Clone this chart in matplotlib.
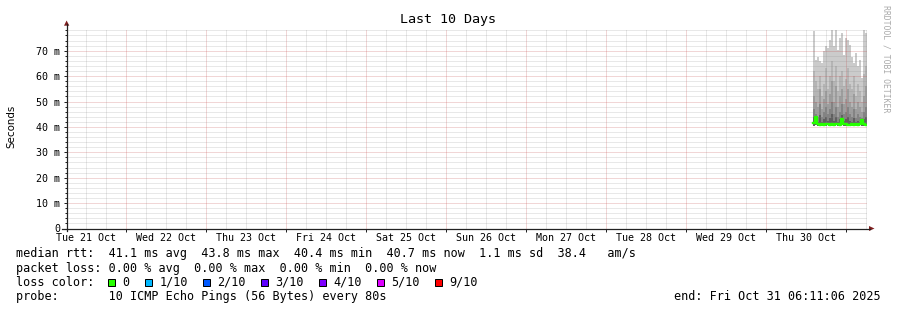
import matplotlib
matplotlib.use("Agg")
import matplotlib.pyplot as plt
import matplotlib.dates as mdates
from matplotlib.ticker import MultipleLocator, FuncFormatter, NullFormatter
from matplotlib.patches import Rectangle, Polygon
from matplotlib.lines import Line2D
from matplotlib.transforms import IdentityTransform, blended_transform_factory
from datetime import datetime, timedelta

W, H = 897, 310

# ---- data: smokeping rtt in ms, one column per 36 min ----
start = datetime(2025, 10, 21, 6, 11, 6)
end = datetime(2025, 10, 31, 6, 11, 6)
col_start = datetime(2025, 10, 30, 14, 0)
col_minutes = 36

ping_max = [77.6, 66.4, 67.7, 65.8, 65.1, 69.7, 71.7, 71.0, 74.3, 78.0, 71.7, 78.0, 70.4, 75.0,
            77.0, 68.4, 75.0, 74.3, 72.4, 67.7, 65.0, 69.0, 63.8, 66.4, 59.2, 78.3, 77.0]
ping_p9 = [62, 58, 55, 60, 52, 57, 63, 55, 60, 66, 58, 64, 54, 60,
           62, 56, 59, 63, 57, 55, 60, 52, 57, 54, 50, 61, 64]
ping_p8 = [52, 50, 48, 55, 47, 51, 54, 49, 53, 58, 50, 56, 48, 52,
           55, 49, 51, 55, 50, 48, 53, 47, 50, 48, 46, 52, 56]
ping_p7 = [47, 45, 44, 49, 44, 46, 48, 45, 47, 50, 45, 48, 44, 46,
           49, 45, 46, 48, 45, 44, 47, 43.5, 45, 44, 43.5, 46, 48]
ping_p6 = [44, 42.5, 42, 44.5, 42, 43, 44, 42.5, 43.5, 45, 42.5, 44, 42, 43,
           44.5, 42.5, 43, 44, 42.5, 42, 43.5, 42, 42.5, 42, 42, 43, 44]
ping_min = [40.4, 40.6, 40.5, 40.5, 40.6, 40.4, 40.5, 40.6, 40.5, 40.4, 40.5, 40.6, 40.5, 40.4,
            40.6, 40.5, 40.5, 40.4, 40.5, 40.6, 40.5, 40.4, 40.5, 40.6, 40.5, 40.4, 40.5]
median = [41.5, 44.0, 41.0, 40.8, 41.2, 40.9, 41.0, 41.3, 40.8, 41.1, 40.9, 41.2, 41.0, 40.8,
          43.2, 41.0, 41.2, 40.9, 40.7, 41.0, 40.8, 41.1, 40.9, 41.3, 42.8, 41.0, 40.7]

day_labels = ["Tue 21 Oct", "Wed 22 Oct", "Thu 23 Oct", "Fri 24 Oct", "Sat 25 Oct",
              "Sun 26 Oct", "Mon 27 Oct", "Tue 28 Oct", "Wed 29 Oct", "Thu 30 Oct"]

loss_labels = ["0", "1/10", "2/10", "3/10", "4/10", "5/10", "9/10"]
loss_colors = ["#26ff00", "#00b8ff", "#0059ff", "#5e00ff", "#7e00ff", "#dd00ff", "#ff0000"]

legend_lines = [
    "median rtt:  41.1 ms avg  43.8 ms max  40.4 ms min  40.7 ms now  1.1 ms sd  38.4   am/s",
    "packet loss: 0.00 % avg  0.00 % max  0.00 % min  0.00 % now",
    "loss color:",
    "probe:       10 ICMP Echo Pings (56 Bytes) every 80s",
]
end_text = "end: Fri Oct 31 06:11:06 2025"

band_colors = ["#cbcbcb", "#b5b5b5", "#9d9d9d", "#838383", "#5f5f5f"]

MONO = "DejaVu Sans Mono"
AXIS = "#222222"
ARROW = "#7f1f1f"

fig = plt.figure(figsize=(W / 100, H / 100), dpi=100, facecolor="white")
ax = fig.add_axes([66.5 / W, (H - 228.5) / H, 800 / W, 200 / H])
ax.set_facecolor("white")
ax.set_axisbelow(False)

edges = [col_start + timedelta(minutes=col_minutes * i) for i in range(len(ping_max) + 1)]

def ext(v):
    return list(v) + [v[-1]]

for vals, c in zip([ping_max, ping_p9, ping_p8, ping_p7, ping_p6], band_colors):
    ax.fill_between(edges, ext(ping_min), ext(vals), step="post", color=c, lw=0, zorder=1)
ax.step(edges, ext(median), where="post", color=loss_colors[0], lw=1.7, zorder=3)

ax.set_xlim(start, end)
ax.set_ylim(0, 200 / 2.54)

# grid
ax.xaxis.set_major_locator(mdates.DayLocator())
ax.xaxis.set_minor_locator(mdates.HourLocator(byhour=[0, 6, 12, 18]))
ax.xaxis.set_major_formatter(NullFormatter())
ax.yaxis.set_major_locator(MultipleLocator(10))
ax.yaxis.set_minor_locator(MultipleLocator(2))
ax.yaxis.set_major_formatter(FuncFormatter(lambda v, p: "0" if round(v) == 0 else "%d m" % round(v)))
ax.grid(which="minor", color="#8c8c8c", alpha=0.4, lw=0.72, ls=(0, (1, 1)))
ax.grid(which="major", color="#c04040", alpha=0.42, lw=0.72, ls=(0, (1, 1)))
for s in ax.spines.values():
    s.set_visible(False)
ax.tick_params(which="major", direction="out", length=2.2, width=0.72, color=AXIS,
               labelsize=7.2, pad=2.2)
ax.tick_params(which="minor", direction="out", length=1.5, width=0.72, color=AXIS)
ax.tick_params(axis="x", which="minor", length=0)
for lab in ax.get_yticklabels():
    lab.set_family(MONO)

# day labels centred on noon
tr = blended_transform_factory(ax.transData, ax.transAxes)
for i, lab in enumerate(day_labels):
    ax.text(datetime(2025, 10, 21 + i, 12), -0.047, lab, transform=tr, ha="center", va="center",
            fontsize=7.2, family=MONO, clip_on=False)

# axis lines and arrows (pixel coords, y from top)
T = IdentityTransform()
fig.add_artist(Line2D([66.5, 66.5], [H - 231, H - 24], transform=T, color=AXIS, lw=0.9))
fig.add_artist(Line2D([62, 870], [H - 228.5, H - 228.5], transform=T, color=AXIS, lw=0.9))
fig.add_artist(Polygon([(64, H - 25.7), (69.3, H - 25.7), (66.6, H - 20.5)], closed=True,
                       transform=T, color=ARROW, lw=0))
fig.add_artist(Polygon([(869, H - 226), (869, H - 231), (874.5, H - 228.5)], closed=True,
                       transform=T, color=ARROW, lw=0))

# titles
fig.text(448 / W, 1 - 19.5 / H, "Last 10 Days", ha="center", va="center", fontsize=9.6, family=MONO)
fig.text(11 / W, 1 - 126 / H, "Seconds", ha="center", va="center", rotation=90, fontsize=7.4,
         family="DejaVu Sans")
fig.text(886 / W, 1 - 59 / H, "RRDTOOL / TOBI OETIKER", ha="center", va="center", rotation=270,
         fontsize=5.9, family=MONO, color="#aaaaaa")

# legend block
line_y = [254, 268.2, 282.4, 296.6]
for txt, y in zip(legend_lines, line_y):
    fig.text(16 / W, 1 - y / H, txt, ha="left", va="center", fontsize=8.5, family=MONO)
fig.text(881 / W, 1 - line_y[3] / H, end_text, ha="right", va="center", fontsize=8.5, family=MONO)

cw = 7.1
x = 108.3
for lab, c in zip(loss_labels, loss_colors):
    fig.add_artist(Rectangle((x, H - line_y[2] - 3.5), 7, 7, transform=T, facecolor=c,
                             edgecolor="black", lw=0.72))
    fig.text((x + 14.3) / W, 1 - line_y[2] / H, lab, ha="left", va="center", fontsize=8.5, family=MONO)
    x += 14.3 + len(lab) * cw + 15.3

fig.savefig("out.png", dpi=100, facecolor="white")
